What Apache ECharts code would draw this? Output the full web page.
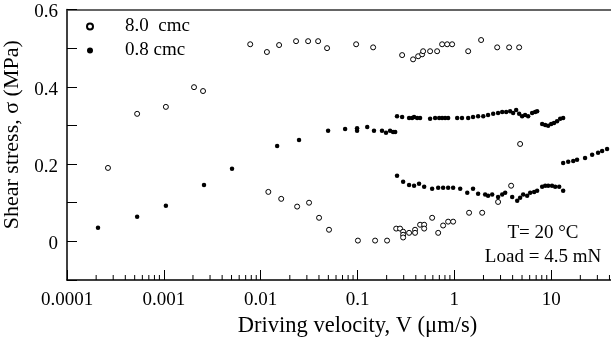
<!DOCTYPE html>
<html><head><meta charset="utf-8">
<script src="https://cdn.jsdelivr.net/npm/echarts@6/dist/echarts.min.js"></script>
<style>html,body{margin:0;padding:0;background:#fff}#c{width:611px;height:339px}</style>
</head><body><div id="c"></div>
<script>
// ---- data (velocity in µm/s, shear stress in MPa) ----
const seriesNames = ['8.0  cmc', '0.8 cmc'];

const cmc80 = [
  [2.65e-4,0.190],[5.3e-4,0.330],[1.05e-3,0.348],[2.05e-3,0.399],[2.54e-3,0.389],
  [7.8e-3,0.510],[0.0116,0.490],[0.0155,0.508],[0.0232,0.518],[0.0309,0.518],[0.0392,0.518],
  [0.0485,0.500],[0.0968,0.510],[0.145,0.502],[0.289,0.482],[0.375,0.471],[0.423,0.479],
  [0.465,0.484],[0.476,0.492],[0.562,0.492],[0.664,0.492],[0.748,0.510],[0.843,0.510],
  [0.949,0.510],[1.39,0.492],[1.89,0.521],[2.77,0.502],[3.68,0.502],[4.67,0.502],
  [4.78,0.252],
  [0.0120,0.128],[0.0163,0.110],[0.0238,0.090],[0.0316,0.100],[0.0401,0.061],[0.0508,0.030],
  [0.101,0.002],[0.152,0.002],[0.202,0.002],[0.251,0.033],[0.275,0.033],[0.296,0.025],
  [0.296,0.017],[0.296,0.010],[0.341,0.022],[0.393,0.030],[0.393,0.022],[0.443,0.043],
  [0.488,0.043],[0.488,0.033],[0.590,0.061],[0.681,0.022],[0.766,0.041],[0.863,0.051],
  [0.972,0.051],[1.42,0.074],[1.94,0.074],[2.83,0.102],[3.86,0.144]
];

const cmc08 = [
  [2.09e-4,0.035],[5.3e-4,0.064],[1.05e-3,0.092],[2.6e-3,0.146],[5.06e-3,0.188],
  [0.0148,0.247],[0.0249,0.262],[0.0497,0.286],[0.0745,0.291],[0.099,0.293],[0.099,0.286],
  [0.126,0.296],[0.148,0.286],[0.179,0.286],[0.197,0.281],[0.217,0.286],[0.233,0.283],[0.245,0.283],
  [0.256,0.324],[0.289,0.322],[0.341,0.319],[0.366,0.319],[0.384,0.322],[0.413,0.319],[0.443,0.319],
  [0.562,0.317],[0.633,0.319],[0.697,0.319],[0.748,0.319],[0.803,0.319],[0.863,0.319],
  [1.07,0.319],[1.20,0.319],[1.39,0.319],[1.56,0.322],[1.76,0.324],[1.99,0.324],[2.23,0.327],
  [2.52,0.330],[2.83,0.332],[3.12,0.335],[3.43,0.335],[3.77,0.337],[4.05,0.332],[4.35,0.340],
  [4.67,0.330],[5.01,0.324],[5.38,0.327],[5.78,0.324],[6.36,0.332],[6.83,0.335],[7.16,0.337],
  [8.07,0.304],[8.67,0.301],[9.31,0.299],[10.0,0.304],[10.7,0.306],[11.5,0.311],[12.4,0.317],[13.3,0.319],
  [0.256,0.170],[0.296,0.154],[0.341,0.146],[0.384,0.144],[0.432,0.149],[0.488,0.141],
  [0.590,0.136],[0.681,0.139],[0.766,0.139],[0.863,0.139],[0.972,0.139],[1.15,0.136],
  [1.36,0.126],[1.56,0.136],[1.76,0.123],[2.08,0.121],[2.23,0.118],[2.46,0.121],[2.83,0.115],
  [3.12,0.121],[3.35,0.126],[3.96,0.115],[4.46,0.105],[4.78,0.113],[5.14,0.121],[5.65,0.118],
  [6.07,0.126],[6.67,0.128],[7.16,0.131],[8.07,0.141],[8.67,0.144],[9.31,0.144],[10.2,0.144],
  [11.0,0.141],[12.1,0.141],[13.3,0.131],
  [13.3,0.203],[15.0,0.206],[16.9,0.208],[18.5,0.211],[22.4,0.216],[26.5,0.224],
  [30.5,0.229],[33.6,0.234],[37.8,0.239]
];

const xTickLabels = ['0.0001','0.001','0.01','0.1','1','10'];
const yTickLabels = {'0':'0','0.2':'0.2','0.4':'0.4','0.6':'0.6'};
const minorMultipliers = [2,3,4,5,6,7,8,9];
const minorDecades = [1e-4,1e-3,1e-2,1e-1,1,10];
const annotations = ['T= 20 \u00B0C','Load = 4.5 mN'];

// minor log ticks (axis decoration)
const minorTicks = [];
minorDecades.forEach(d => minorMultipliers.forEach(m => minorTicks.push([m*d])));

const FONT = "'Liberation Serif','Times New Roman',serif";
const chart = echarts.init(document.getElementById('c'), null, {renderer:'canvas'});

chart.setOption({
  animation: false,
  backgroundColor: '#fff',
  textStyle: {fontFamily: FONT, color:'#000'},
  grid: {left: 67, width: 581, top: 9.5, height: 270.5, containLabel: false, outerBoundsMode: 'none'},
  legend: {
    orient: 'vertical', left: 81, top: 12, itemGap: 5,
    itemWidth: 6, itemHeight: 6, icon: 'circle',
    data: seriesNames,
    textStyle: {fontFamily: FONT, fontSize: 19, color:'#000', padding:[0,0,0,27]}
  },
  xAxis: [{
    type: 'log', logBase: 10, min: 1e-4, max: 100, splitNumber: 6,
    position: 'bottom',
    name: 'Driving velocity, V (\u03BCm/s)', nameLocation: 'middle', nameGap: 17,
    nameTextStyle: {fontFamily: FONT, fontSize: 22.5, color:'#000', padding:[0,0,0,0]},
    axisLine: {show: true, onZero: false, lineStyle: {color:'#000', width: 1.5}},
    axisTick: {show: true, inside: true, length: 10, lineStyle:{color:'#000', width:1}},
    splitLine: {show: false},
    axisLabel: {
      margin: 11, fontFamily: FONT, fontSize: 19, color:'#000',
      formatter: v => { const k = Math.round(Math.log10(v)); return xTickLabels[k+4] || ''; }
    }
  }, {
    type: 'log', logBase: 10, min: 1e-4, max: 100, position: 'top',
    axisLine: {show: true, onZero: false, lineStyle: {color:'#333', width: 1.5}},
    axisTick: {show: false}, axisLabel: {show: false}, splitLine: {show: false}
  }],
  yAxis: {
    type: 'value', min: -0.1, max: 0.6, interval: 0.1,
    name: 'Shear stress, \u03C3 (MPa)', nameLocation: 'middle', nameGap: 36,
    nameTextStyle: {fontFamily: FONT, fontSize: 22, color:'#000', padding:[0,0,0,20]},
    axisLine: {show: true, onZero: false, lineStyle: {color:'#000', width: 1.5}},
    axisTick: {show: true, inside: true, length: 10, lineStyle:{color:'#000', width:1}},
    splitLine: {show: false},
    axisLabel: {
      margin: 9, fontFamily: FONT, fontSize: 19, color:'#000',
      formatter: v => { const key = String(Math.round(v*10)/10); return yTickLabels[key] ? '{v|' + yTickLabels[key] + '}' : ''; },
      rich: {v: {fontFamily: FONT, fontSize: 19, color:'#000', padding:[6,0,0,0]}}
    }
  },
  graphic: [
    {type:'text', z: 100, style:{text: annotations[0], x: 543, y: 233, textAlign:'center', textVerticalAlign:'middle', font: "19px " + FONT, fill:'#000'}},
    {type:'text', z: 100, style:{text: annotations[1], x: 543, y: 257, textAlign:'center', textVerticalAlign:'middle', font: "19px " + FONT, fill:'#000'}}
  ],
  series: [
    {
      name: seriesNames[0], type: 'scatter', data: cmc80,
      symbol: 'circle', symbolSize: 5,
      itemStyle: {color:'#fff', borderColor:'#000', borderWidth: 1, opacity: 1}
    },
    {
      name: seriesNames[1], type: 'scatter', data: cmc08,
      symbol: 'circle', symbolSize: 4.5,
      itemStyle: {color:'#000', opacity: 1}
    },
    {
      type: 'custom', silent: true, clip: false, data: minorTicks,
      encode: {x: 0},
      renderItem: (params, api) => {
        const p = api.coord([api.value(0), -0.1]);
        return {type:'line', shape:{x1:p[0], y1:p[1], x2:p[0], y2:p[1]-5}, style:{stroke:'#000', lineWidth:1}};
      }
    }
  ]
});
</script>
</body></html>
